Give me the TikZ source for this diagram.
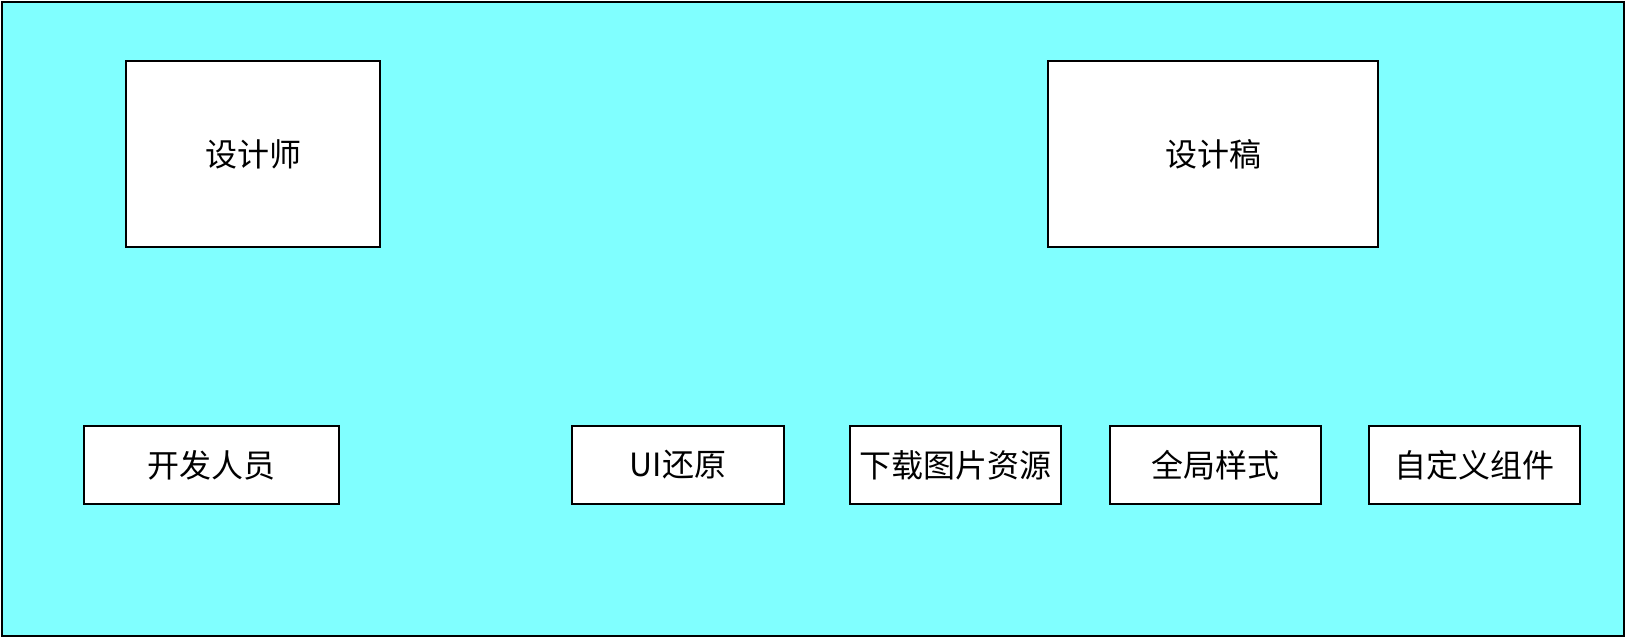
\documentclass[tikz,border=0pt]{standalone}
\usepackage{fontspec}
\setmainfont{Noto Sans CJK SC}
\definecolor{bgcyan}{HTML}{80FFFF}
\tikzset{
  box/.style={draw=black, fill=white, line width=2pt, inner sep=0pt, align=center,
    font=\fontsize{32}{38}\selectfont},
}
\begin{document}
\begin{tikzpicture}[x=1pt,y=-1pt]
\useasboundingbox (0,0) rectangle (1626,638);
\draw[line width=2pt, fill=bgcyan] (2,2) rectangle (1624,636);
\node[box, minimum width=254pt, minimum height=186pt] (designer) at (253,154) {设计师};
\node[box, minimum width=330pt, minimum height=186pt] (draft) at (1213,154) {设计稿};
\node[box, minimum width=255pt, minimum height=78pt] (dev) at (211.5,465) {开发人员};
\node[box, minimum width=212pt, minimum height=78pt] (ui) at (678,465) {UI还原};
\node[box, minimum width=211pt, minimum height=78pt] (img) at (955.5,465) {下载图片资源};
\node[box, minimum width=211pt, minimum height=78pt] (style) at (1215,465) {全局样式};
\node[box, minimum width=211pt, minimum height=78pt] (comp) at (1474,465) {自定义组件};
\end{tikzpicture}
\end{document}
